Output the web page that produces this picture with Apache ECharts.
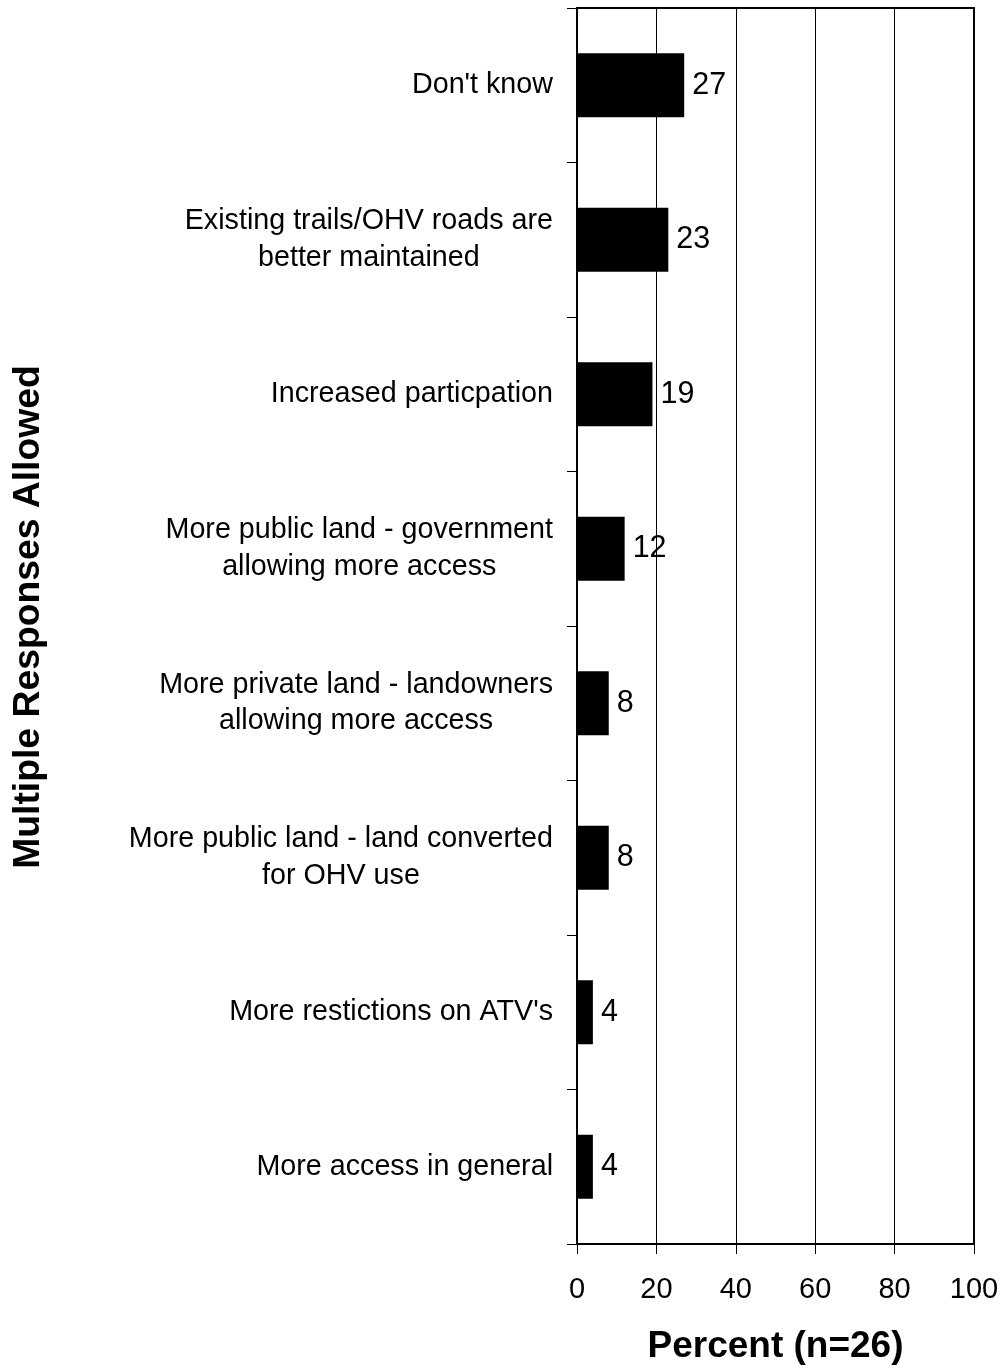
<!DOCTYPE html>
<html>
<head>
<meta charset="utf-8">
<script src="https://cdn.jsdelivr.net/npm/echarts@6/dist/echarts.min.js"></script>
<style>
  html, body { margin: 0; padding: 0; background: #fff; }
  #chart { width: 1002px; height: 1370px; }
</style>
</head>
<body>
<div id="chart"></div>
<script>
// responses, top to bottom
var categories = [
    "Don't know",
    'Existing trails/OHV roads are\nbetter maintained',
    'Increased particpation',
    'More public land - government\nallowing more access',
    'More private land - landowners\nallowing more access',
    'More public land - land converted\nfor OHV use',
    "More restictions on ATV's",
    'More access in general'
];
var percents = [27, 23, 19, 12, 8, 8, 4, 4];
var xTicks = [0, 20, 40, 60, 80, 100];

var font = 'Liberation Sans, Arial, sans-serif';

var chart = echarts.init(document.getElementById('chart'));
var option = {
    animation: false,
    grid: {
        left: 577,
        right: 28,
        top: 8,
        bottom: 126,
        show: true,
        borderColor: '#000',
        borderWidth: 2,
        backgroundColor: 'transparent'
    },
    xAxis: {
        type: 'value',
        min: xTicks[0],
        max: xTicks[xTicks.length - 1],
        interval: 20,
        name: 'Percent (n=26)',
        nameLocation: 'middle',
        nameGap: 84,
        nameTextStyle: { fontFamily: font, fontSize: 37, fontWeight: 'bold', color: '#000' },
        axisLine: { show: true, lineStyle: { color: '#000', width: 2 } },
        axisTick: { show: true, length: 10, lineStyle: { color: '#000', width: 1 } },
        axisLabel: { fontFamily: font, fontSize: 29, color: '#000', margin: 31 },
        splitLine: { show: true, lineStyle: { color: '#000', width: 1 } }
    },
    yAxis: {
        type: 'category',
        inverse: true,
        data: categories,
        name: 'Multiple Responses Allowed',
        nameLocation: 'middle',
        nameRotate: 90,
        nameGap: 530,
        nameTextStyle: {
            fontFamily: font, fontSize: 37.3, fontWeight: 'bold', color: '#000',
            padding: [0, 0, 0, 18]
        },
        axisLine: { show: true, lineStyle: { color: '#000', width: 2 } },
        axisTick: { show: true, length: 10, lineStyle: { color: '#000', width: 1 } },
        axisLabel: {
            margin: 24,
            align: 'right',
            // lines of a two-line label are centred on each other
            formatter: function (v) {
                return v.split('\n').map(function (s) { return '{c|' + s + '}'; }).join('\n');
            },
            rich: {
                c: { align: 'center', fontFamily: font, fontSize: 28.7, lineHeight: 36.5, color: '#000' }
            }
        },
        splitLine: { show: false }
    },
    series: [
        {
            type: 'bar',
            data: percents,
            barWidth: 64,
            itemStyle: { color: '#000' },
            label: {
                show: true,
                position: 'right',
                distance: 8,
                fontFamily: font,
                fontSize: 30.5,
                color: '#000'
            }
        }
    ]
};
chart.setOption(option);
</script>
</body>
</html>
